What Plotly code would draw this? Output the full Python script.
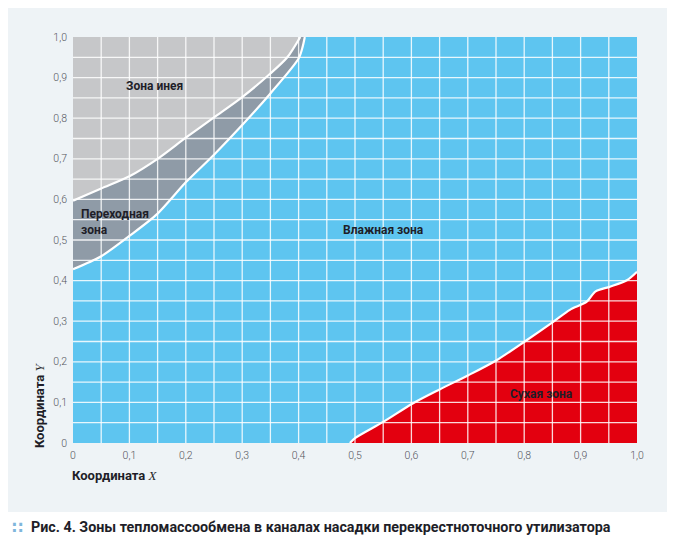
import numpy as np
import plotly.graph_objects as go

# граница "зона инея / переходная зона"
frost_x = [0.0, 0.05, 0.10, 0.15, 0.20, 0.25, 0.30, 0.35, 0.38, 0.403]
frost_y = [0.597, 0.627, 0.657, 0.700, 0.752, 0.802, 0.852, 0.910, 0.950, 1.0]

# граница "переходная зона / влажная зона"
trans_x = [0.0, 0.05, 0.10, 0.15, 0.20, 0.25, 0.30, 0.35, 0.40, 0.407, 0.411]
trans_y = [0.428, 0.460, 0.510, 0.565, 0.642, 0.710, 0.783, 0.861, 0.947, 0.975, 1.0]

# граница "влажная зона / сухая зона"
dry_x = [0.491, 0.50, 0.550, 0.603, 0.650, 0.701, 0.751, 0.801, 0.852, 0.881, 0.911, 0.926, 0.952, 0.982, 1.0]
dry_y = [0.0, 0.012, 0.052, 0.098, 0.132, 0.167, 0.204, 0.250, 0.299, 0.328, 0.348, 0.373, 0.385, 0.401, 0.422]

tick_vals = [0, 0.1, 0.2, 0.3, 0.4, 0.5, 0.6, 0.7, 0.8, 0.9, 1.0]
tick_text = ["0", "0,1", "0,2", "0,3", "0,4", "0,5", "0,6", "0,7", "0,8", "0,9", "1,0"]

zone_labels = ["Зона инея", "Переходная<br>зона", "Влажная зона", "Сухая зона"]

FONT = "Roboto, sans-serif"
INK = "#1e1e28"
C_FROST = "#c6c7c9"
C_TRANS = "#8f9ba7"
C_WET = "#5ec5f0"
C_DRY = "#e3000f"
LO, HI = 0.0, 1.0
EDGE = dict(color="white", width=2.2, shape="spline", smoothing=0.8)

fig = go.Figure()

# верхний край области (для заливки зоны инея)
fig.add_trace(go.Scatter(
    x=[LO, frost_x[-1]], y=[HI, HI], mode="lines",
    line=dict(width=0), hoverinfo="skip", showlegend=False))

# зона инея: между верхним краем и первой границей
fig.add_trace(go.Scatter(
    x=frost_x, y=frost_y, mode="lines", fill="tonexty", fillcolor=C_FROST,
    line=EDGE, hoverinfo="skip", showlegend=False))

# переходная зона: между двумя границами
fig.add_trace(go.Scatter(
    x=trans_x, y=trans_y, mode="lines", fill="tonexty", fillcolor=C_TRANS,
    line=EDGE, hoverinfo="skip", showlegend=False))

# сухая зона
fig.add_trace(go.Scatter(
    x=dry_x, y=dry_y, mode="lines", fill="tozeroy", fillcolor=C_DRY,
    line=EDGE, hoverinfo="skip", showlegend=False))

# подложка всей иллюстрации
fig.add_shape(type="rect", xref="paper", yref="paper",
              x0=-0.124, x1=1.064, y0=-0.170, y1=1.086,
              fillcolor="#eef3f6", line=dict(width=0), layer="below")
# фон влажной зоны (вся область графика)
fig.add_shape(type="rect", x0=LO, x1=HI, y0=LO, y1=HI,
              fillcolor=C_WET, line=dict(width=0), layer="below")

# белая сетка поверх заливок
for v in np.arange(0.05, 1.0, 0.05):
    fig.add_shape(type="line", x0=v, x1=v, y0=LO, y1=HI, layer="above",
                  line=dict(color="rgba(255,255,255,0.85)", width=1.3))
    fig.add_shape(type="line", x0=LO, x1=HI, y0=v, y1=v, layer="above",
                  line=dict(color="rgba(255,255,255,0.85)", width=1.3))

# подписи зон
label_pos = [(0.145, 0.879, "center"), (0.010, 0.545, "left"),
             (0.551, 0.525, "center"), (0.83, 0.121, "center")]
for txt, (lx, ly, anc) in zip(zone_labels, label_pos):
    fig.add_annotation(x=lx, y=ly, text="<b>" + txt + "</b>", showarrow=False,
                       xanchor=anc, align="left",
                       font=dict(family=FONT, size=12, color=INK))

# подписи осей
fig.add_annotation(xref="paper", yref="paper", x=-0.005, y=-0.079,
                   xanchor="left", yanchor="middle", showarrow=False,
                   text="<b>Координата</b> <span style='font-family:Liberation Serif;font-style:italic'>X</span>",
                   font=dict(family=FONT, size=13, color=INK))
fig.add_annotation(xref="paper", yref="paper", x=-0.058, y=0.094,
                   xanchor="center", yanchor="middle", showarrow=False, textangle=-90,
                   text="<b>Координата</b> <span style='font-family:Liberation Serif;font-style:italic'>Y</span>",
                   font=dict(family=FONT, size=13, color=INK))

# подпись рисунка
fig.add_annotation(xref="paper", yref="paper", x=-0.098, y=-0.207,
                   xanchor="center", yanchor="middle", showarrow=False,
                   text="<b>∷</b>", font=dict(family="DejaVu Sans", size=16, color="#7fb6dc"))
fig.add_annotation(xref="paper", yref="paper", x=-0.078, y=-0.207,
                   xanchor="left", yanchor="middle", showarrow=False,
                   text="<b>Рис. 4. Зоны тепломассообмена в каналах насадки перекрестноточного утилизатора</b>",
                   font=dict(family=FONT, size=14.3, color=INK))

axis_common = dict(range=[LO, HI], tickvals=tick_vals, ticktext=tick_text,
                   showgrid=False, zeroline=False, showline=False, ticks="",
                   tickfont=dict(family=FONT, size=10.5, color="#55555d", weight=300),
                   fixedrange=True)

# страница сдвигает рисунок на 8 px (отступ body), поэтому размеры уменьшены
fig.update_layout(
    width=667, height=537,
    margin=dict(l=65, r=38, t=29, b=102),
    paper_bgcolor="white",
    plot_bgcolor=C_WET,
    xaxis=dict(**axis_common, ticklabelstandoff=4),
    yaxis=dict(**axis_common, ticklabelstandoff=5),
)

fig.write_html("out.html")
